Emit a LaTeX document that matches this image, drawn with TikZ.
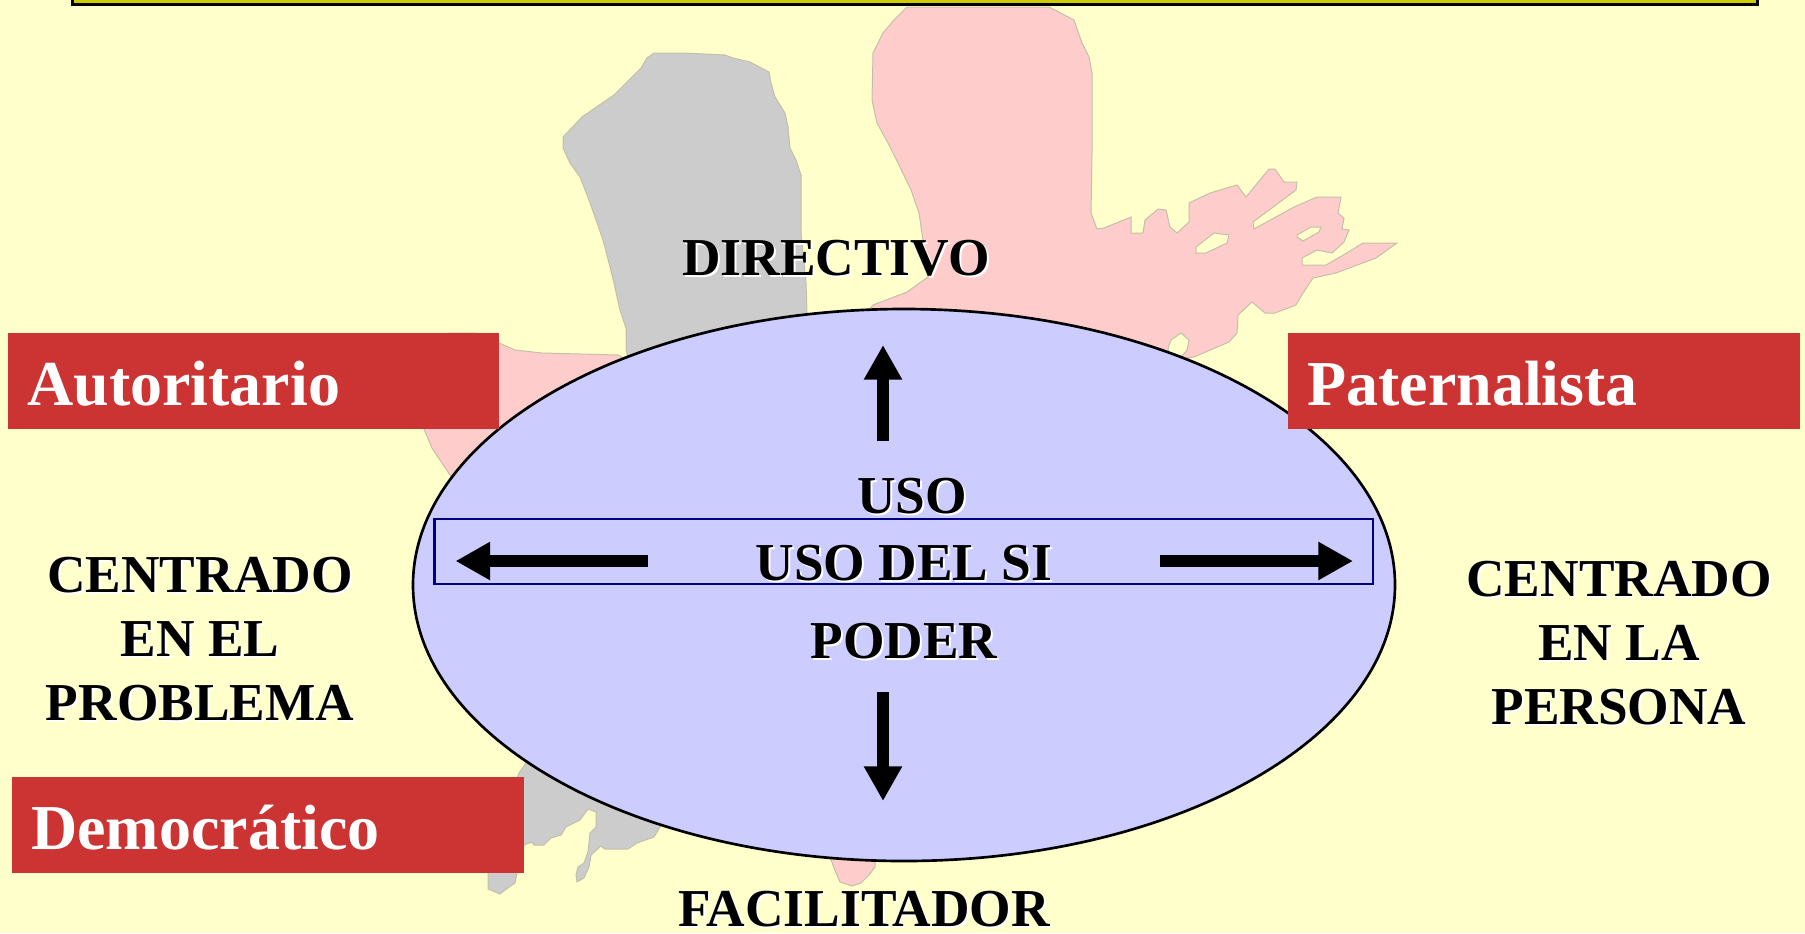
\documentclass[tikz,border=0pt]{standalone}
\usepackage{fontspec}
\setmainfont{Liberation Serif}
\usetikzlibrary{arrows.meta, shapes.geometric, calc}
\definecolor{pagebg}{HTML}{FFFFCC}
\definecolor{barfill}{HTML}{CCCC00}
\definecolor{ovalfill}{HTML}{CCCCFF}
\definecolor{blobpink}{HTML}{FFCCCC}
\definecolor{blobgrey}{HTML}{CCCCCC}
\definecolor{bloblines}{HTML}{C4BFA8}
\definecolor{boxred}{HTML}{CC3333}
\definecolor{bandblue}{HTML}{000080}
\newcommand{\shadowed}[1]{\leavevmode\rlap{\hspace{1.5pt}\raisebox{-1.5pt}{\textcolor{white}{#1}}}#1}
\tikzset{
    my-blob/.style={
        draw=bloblines, line width=.75pt, even odd rule
    },
    my-red-box/.style={
        fill=boxred, text=white, anchor=north west, inner xsep=14.5pt, inner ysep=0pt, outer sep=0pt,
        text width=#1, text height=36pt, text depth=0pt, minimum height=72pt, font=\fontsize{48}{54}\selectfont\bfseries
    },
    my-label/.style={
        align=center, inner sep=0pt, font=\fontsize{40}{48}\selectfont\bfseries
    },
    my-arrow/.style={
        line width=9pt, -{Triangle[width=27pt,length=26pt]}
    },
}

\begin{document}
\begin{tikzpicture}[x=.75pt, y=-.75pt]

        \useasboundingbox (0,0) rectangle (1805,933);
        \fill[pagebg] (0,0) rectangle (1805,933);

        % TITLE BAR, CUT BY THE TOP EDGE
        \node[draw=black, fill=barfill, line width=2pt, anchor=south west, inner sep=0pt, minimum width=1263.75pt, minimum height=20pt] (BAR) at (71,5.5) {};

        % PINK BLOB WITH ITS TWO HOLES AND THE ISLAND AT THE OVAL
        \draw[my-blob, fill=blobpink]
            (907,7) -- (1049,7) -- (1074,20) -- (1082,43) -- (1089,57) -- (1092,73) -- (1092,153) -- (1091,213)
            -- (1097,229) -- (1104,228) -- (1131,217) -- (1131,233) -- (1143,233) -- (1145,220) -- (1158,209)
            -- (1166,210) -- (1170,227) -- (1177,233) -- (1189,222) -- (1189,203) -- (1210,193) -- (1237,185)
            -- (1246,197) -- (1269,169) -- (1275,169) -- (1284,182) -- (1297,182) -- (1296,190) -- (1253,222)
            -- (1254,229) -- (1294,207) -- (1317,197) -- (1341,197) -- (1338,213) -- (1344,218) -- (1342,229)
            -- (1349,230) -- (1344,242) -- (1332,253) -- (1317,250) -- (1302,258) -- (1302,265) -- (1326,265)
            -- (1340,257) -- (1363,243) -- (1397,243) -- (1376,258) -- (1336,273) -- (1313,278) -- (1303,293)
            -- (1296,305) -- (1275,313) -- (1265,313) -- (1252,302) -- (1238,315) -- (1237,333) -- (1229,342)
            -- (1194,357) -- (1187,358) -- (1100,600) -- (875,860) -- (875,867) -- (869,875) -- (861,883)
            -- (852,886) -- (840,882) -- (834,868) -- (832,862) -- (700,600) -- (450,475) -- (432,448)
            -- (424,429) -- (448,333) -- (475,333) -- (499,343) -- (515,350) -- (542,353) -- (618,355)
            -- (700,400) -- (860,320) -- (873,305) -- (907,292) -- (928,277) -- (923,240) -- (919,213)
            -- (911,190) -- (900,167) -- (888,143) -- (877,123) -- (872,100) -- (873,53) -- (883,33) -- (894,20) -- cycle
            (1196,253) -- (1196,247) -- (1214,233) -- (1229,235) -- (1227,243) -- (1206,253) -- cycle
            (1297,235) -- (1311,227) -- (1321,227) -- (1319,232) -- (1303,241) -- (1297,237) -- cycle
            (1168,348) -- (1171,340) -- (1181,333) -- (1189,340) -- (1187,350) -- (1183,355) -- (1170,360) -- cycle;

        % GREY BLOB
        \draw[my-blob, fill=blobgrey]
            (654,53) -- (683,53) -- (725,55) -- (733,58) -- (750,62) -- (769,72) -- (771,83) -- (775,97)
            -- (785,113) -- (788,127) -- (790,148) -- (796,160) -- (801,175) -- (801,233) -- (806,283)
            -- (807,313) -- (800,500) -- (660,827) -- (654,837) -- (637,843) -- (628,849) -- (605,849)
            -- (601,846) -- (591,855) -- (589,867) -- (584,878) -- (577,882) -- (576,875) -- (578,867)
            -- (584,863) -- (588,852) -- (590,833) -- (596,827) -- (596,812) -- (588,809) -- (580,820)
            -- (566,827) -- (561,835) -- (551,838) -- (544,845) -- (534,845) -- (532,842) -- (524,845)
            -- (517,873) -- (515,883) -- (505,890) -- (500,894) -- (488,889) -- (488,853) -- (519,773)
            -- (526,763) -- (700,600) -- (626,350) -- (626,328) -- (620,310) -- (614,283) -- (609,263)
            -- (603,240) -- (595,217) -- (589,200) -- (580,177) -- (570,163) -- (563,148) -- (563,137)
            -- (582,117) -- (614,95) -- (622,87) -- (641,68) -- (647,58) -- cycle;

        % OVAL AND BAND
        \node[ellipse, draw=black, fill=ovalfill, line width=2pt, inner sep=0pt, minimum width=736.5pt, minimum height=414pt] (OVAL) at (904,585) {};
        \node[draw=bandblue, line width=2pt, inner sep=0pt, minimum width=704pt, minimum height=48.75pt] (BAND) at ($(OVAL) + (-.5,-33.5)$) {};

        % ARROWS AND THEIR END POINTS
        \coordinate[] (UPTAIL)    at ($(OVAL) + (-21,-144)$);
        \coordinate[] (UPTIP)     at ($(OVAL) + (-21,-240)$);
        \coordinate[] (DOWNTAIL)  at ($(OVAL) + (-21,107)$);
        \coordinate[] (DOWNTIP)   at ($(OVAL) + (-21,216)$);
        \coordinate[] (LEFTTAIL)  at ($(OVAL) + (-256,-24)$);
        \coordinate[] (LEFTTIP)   at ($(OVAL) + (-448.5,-24)$);
        \coordinate[] (RIGHTTAIL) at ($(OVAL) + (256,-24)$);
        \coordinate[] (RIGHTTIP)  at ($(OVAL) + (449,-24)$);
        \draw[my-arrow] (UPTAIL) -- (UPTIP);
        \draw[my-arrow] (DOWNTAIL) -- (DOWNTIP);
        \draw[my-arrow] (LEFTTAIL) -- (LEFTTIP);
        \draw[my-arrow] (RIGHTTAIL) -- (RIGHTTIP);

        % TEXT IN THE OVAL
        \node[my-label] (USO)   at ($(OVAL) + (8,-88)$)   {\shadowed{USO}};
        \node[my-label] (USOSI) at ($(OVAL) + (0,-21)$)   {\shadowed{USO DEL SI}};
        \node[my-label] (PODER) at ($(OVAL) + (0,57)$)    {\shadowed{PODER}};

        % TEXT AROUND THE OVAL
        \node[my-label] (DIRECTIVO)   at (836,259)  {\shadowed{DIRECTIVO}};
        \node[my-label] (FACILITADOR) at (864,910)  {\shadowed{FACILITADOR}};
        \node[my-label] (PROBLEMA)    at (200,640)  {\shadowed{CENTRADO}\\\shadowed{EN EL}\\\shadowed{PROBLEMA}};
        \node[my-label] (PERSONA)     at (1619,644) {\shadowed{CENTRADO}\\\shadowed{EN LA}\\\shadowed{PERSONA}};

        % RED BOXES
        \node[my-red-box=339pt] (AUTORITARIO)  at (8,333)    {Autoritario};
        \node[my-red-box=355pt] (PATERNALISTA) at (1288,333) {Paternalista};
        \node[my-red-box=355pt] (DEMOCRATICO)  at (12,777)   {Democrático};

\end{tikzpicture}
\end{document}
